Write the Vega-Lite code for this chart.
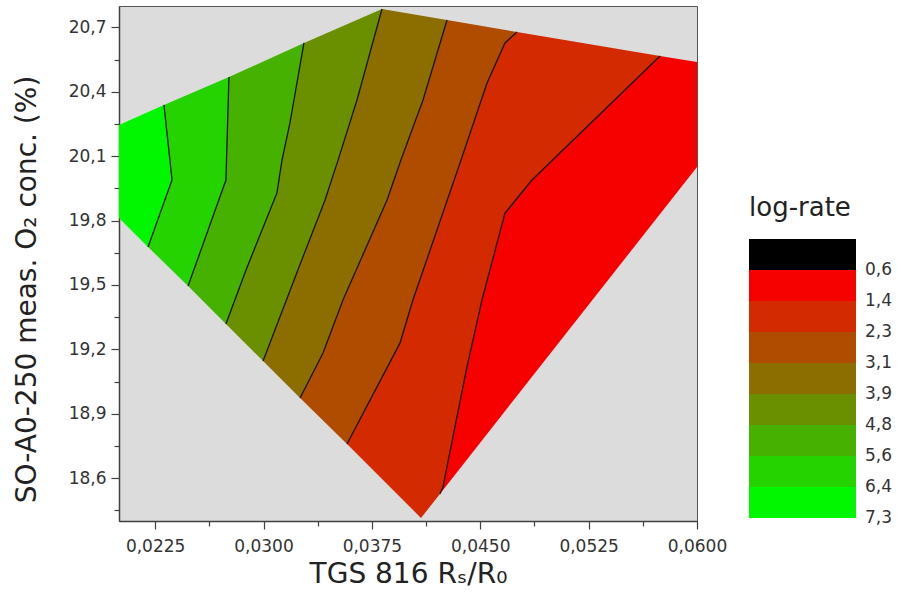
{
 "$schema": "https://vega.github.io/schema/vega-lite/v6.json",
 "width": 578, "height": 515,
 "autosize": {"type": "none"},
 "padding": {"left": 119, "top": 6, "right": 200, "bottom": 84},
 "background": "white",
 "config": {
  "font": "DejaVu Sans",
  "view": {"fill": "#dcdcdc", "stroke": "#555555", "strokeWidth": 1},
  "axis": {"grid": false, "domainColor": "#404040", "domainWidth": 1.5, "tickColor": "#404040", "tickWidth": 1.2,
   "labelFont": "DejaVu Sans", "labelFontSize": 17, "labelColor": "#333333",
   "titleFont": "DejaVu Sans", "titleFontSize": 28, "titleFontWeight": "normal", "titleColor": "#222222",
   "labelFlush": false, "labelOverlap": false, "tickCount": 100}
 },
 "datasets": {
  "bands": [
   {"band":1,"i":0,"x":0.02,"y":20.245,"v":6.86},{"band":1,"i":1,"x":0.02311,"y":20.339,"v":6.86},{"band":1,"i":2,"x":0.02367,"y":19.989,"v":6.86},{"band":1,"i":3,"x":0.02201,"y":19.677,"v":6.86},{"band":1,"i":4,"x":0.02,"y":19.812,"v":6.86},
   {"band":2,"i":0,"x":0.02311,"y":20.339,"v":6.03},{"band":2,"i":1,"x":0.02367,"y":19.989,"v":6.03},{"band":2,"i":2,"x":0.02201,"y":19.677,"v":6.03},{"band":2,"i":3,"x":0.02478,"y":19.495,"v":6.03},{"band":2,"i":4,"x":0.0274,"y":19.989,"v":6.03},{"band":2,"i":5,"x":0.02761,"y":20.469,"v":6.03},
   {"band":3,"i":0,"x":0.02761,"y":20.469,"v":5.19},{"band":3,"i":1,"x":0.0274,"y":19.989,"v":5.19},{"band":3,"i":2,"x":0.02478,"y":19.495,"v":5.19},{"band":3,"i":3,"x":0.0274,"y":19.318,"v":5.19},{"band":3,"i":4,"x":0.02879,"y":19.57,"v":5.19},{"band":3,"i":5,"x":0.03093,"y":19.929,"v":5.19},{"band":3,"i":6,"x":0.03128,"y":20.082,"v":5.19},{"band":3,"i":7,"x":0.03183,"y":20.255,"v":5.19},{"band":3,"i":8,"x":0.0328,"y":20.628,"v":5.19},
   {"band":4,"i":0,"x":0.0328,"y":20.628,"v":4.36},{"band":4,"i":1,"x":0.03183,"y":20.255,"v":4.36},{"band":4,"i":2,"x":0.03128,"y":20.082,"v":4.36},{"band":4,"i":3,"x":0.03093,"y":19.929,"v":4.36},{"band":4,"i":4,"x":0.02879,"y":19.57,"v":4.36},{"band":4,"i":5,"x":0.0274,"y":19.318,"v":4.36},{"band":4,"i":6,"x":0.02997,"y":19.146,"v":4.36},{"band":4,"i":7,"x":0.03246,"y":19.584,"v":4.36},{"band":4,"i":8,"x":0.03426,"y":19.896,"v":4.36},{"band":4,"i":9,"x":0.03516,"y":20.082,"v":4.36},{"band":4,"i":10,"x":0.03647,"y":20.362,"v":4.36},{"band":4,"i":11,"x":0.0382,"y":20.786,"v":4.36},
   {"band":5,"i":0,"x":0.0382,"y":20.786,"v":3.52},{"band":5,"i":1,"x":0.03647,"y":20.362,"v":3.52},{"band":5,"i":2,"x":0.03516,"y":20.082,"v":3.52},{"band":5,"i":3,"x":0.03426,"y":19.896,"v":3.52},{"band":5,"i":4,"x":0.03246,"y":19.584,"v":3.52},{"band":5,"i":5,"x":0.02997,"y":19.146,"v":3.52},{"band":5,"i":6,"x":0.03253,"y":18.973,"v":3.52},{"band":5,"i":7,"x":0.03412,"y":19.183,"v":3.52},{"band":5,"i":8,"x":0.0355,"y":19.43,"v":3.52},{"band":5,"i":9,"x":0.03855,"y":19.896,"v":3.52},{"band":5,"i":10,"x":0.03951,"y":20.082,"v":3.52},{"band":5,"i":11,"x":0.04104,"y":20.362,"v":3.52},{"band":5,"i":12,"x":0.0427,"y":20.735,"v":3.52},
   {"band":6,"i":0,"x":0.0427,"y":20.735,"v":2.69},{"band":6,"i":1,"x":0.04104,"y":20.362,"v":2.69},{"band":6,"i":2,"x":0.03951,"y":20.082,"v":2.69},{"band":6,"i":3,"x":0.03855,"y":19.896,"v":2.69},{"band":6,"i":4,"x":0.0355,"y":19.43,"v":2.69},{"band":6,"i":5,"x":0.03412,"y":19.183,"v":2.69},{"band":6,"i":6,"x":0.03253,"y":18.973,"v":2.69},{"band":6,"i":7,"x":0.03578,"y":18.759,"v":2.69},{"band":6,"i":8,"x":0.03945,"y":19.23,"v":2.69},{"band":6,"i":9,"x":0.04034,"y":19.43,"v":2.69},{"band":6,"i":10,"x":0.0436,"y":20.068,"v":2.69},{"band":6,"i":11,"x":0.04547,"y":20.441,"v":2.69},{"band":6,"i":12,"x":0.04671,"y":20.628,"v":2.69},{"band":6,"i":13,"x":0.04754,"y":20.679,"v":2.69},
   {"band":7,"i":0,"x":0.04754,"y":20.679,"v":1.85},{"band":7,"i":1,"x":0.04671,"y":20.628,"v":1.85},{"band":7,"i":2,"x":0.04547,"y":20.441,"v":1.85},{"band":7,"i":3,"x":0.0436,"y":20.068,"v":1.85},{"band":7,"i":4,"x":0.04034,"y":19.43,"v":1.85},{"band":7,"i":5,"x":0.03945,"y":19.23,"v":1.85},{"band":7,"i":6,"x":0.03578,"y":18.759,"v":1.85},{"band":7,"i":7,"x":0.0409,"y":18.414,"v":1.85},{"band":7,"i":8,"x":0.04221,"y":18.526,"v":1.85},{"band":7,"i":9,"x":0.04242,"y":18.559,"v":1.85},{"band":7,"i":10,"x":0.04408,"y":19.118,"v":1.85},{"band":7,"i":11,"x":0.04512,"y":19.43,"v":1.85},{"band":7,"i":12,"x":0.04671,"y":19.835,"v":1.85},{"band":7,"i":13,"x":0.04858,"y":19.989,"v":1.85},{"band":7,"i":14,"x":0.05744,"y":20.567,"v":1.85},
   {"band":8,"i":0,"x":0.05744,"y":20.567,"v":1.02},{"band":8,"i":1,"x":0.04858,"y":19.989,"v":1.02},{"band":8,"i":2,"x":0.04671,"y":19.835,"v":1.02},{"band":8,"i":3,"x":0.04512,"y":19.43,"v":1.02},{"band":8,"i":4,"x":0.04408,"y":19.118,"v":1.02},{"band":8,"i":5,"x":0.04242,"y":18.559,"v":1.02},{"band":8,"i":6,"x":0.04221,"y":18.526,"v":1.02},{"band":8,"i":7,"x":0.06,"y":20.05,"v":1.02},{"band":8,"i":8,"x":0.06,"y":20.539,"v":1.02}
  ],
  "contours": [
   {"c":1,"i":0,"x":0.02311,"y":20.339},{"c":1,"i":1,"x":0.02367,"y":19.989},{"c":1,"i":2,"x":0.02201,"y":19.677},
   {"c":2,"i":0,"x":0.02761,"y":20.469},{"c":2,"i":1,"x":0.0274,"y":19.989},{"c":2,"i":2,"x":0.02478,"y":19.495},
   {"c":3,"i":0,"x":0.0328,"y":20.628},{"c":3,"i":1,"x":0.03183,"y":20.255},{"c":3,"i":2,"x":0.03128,"y":20.082},{"c":3,"i":3,"x":0.03093,"y":19.929},{"c":3,"i":4,"x":0.02879,"y":19.57},{"c":3,"i":5,"x":0.0274,"y":19.318},
   {"c":4,"i":0,"x":0.0382,"y":20.786},{"c":4,"i":1,"x":0.03647,"y":20.362},{"c":4,"i":2,"x":0.03516,"y":20.082},{"c":4,"i":3,"x":0.03426,"y":19.896},{"c":4,"i":4,"x":0.03246,"y":19.584},{"c":4,"i":5,"x":0.02997,"y":19.146},
   {"c":5,"i":0,"x":0.0427,"y":20.735},{"c":5,"i":1,"x":0.04104,"y":20.362},{"c":5,"i":2,"x":0.03951,"y":20.082},{"c":5,"i":3,"x":0.03855,"y":19.896},{"c":5,"i":4,"x":0.0355,"y":19.43},{"c":5,"i":5,"x":0.03412,"y":19.183},{"c":5,"i":6,"x":0.03253,"y":18.973},
   {"c":6,"i":0,"x":0.04754,"y":20.679},{"c":6,"i":1,"x":0.04671,"y":20.628},{"c":6,"i":2,"x":0.04547,"y":20.441},{"c":6,"i":3,"x":0.0436,"y":20.068},{"c":6,"i":4,"x":0.04034,"y":19.43},{"c":6,"i":5,"x":0.03945,"y":19.23},{"c":6,"i":6,"x":0.03578,"y":18.759},
   {"c":7,"i":0,"x":0.05744,"y":20.567},{"c":7,"i":1,"x":0.04858,"y":19.989},{"c":7,"i":2,"x":0.04671,"y":19.835},{"c":7,"i":3,"x":0.04512,"y":19.43},{"c":7,"i":4,"x":0.04408,"y":19.118},{"c":7,"i":5,"x":0.04242,"y":18.559},{"c":7,"i":6,"x":0.04221,"y":18.526}
  ],
  "legend": [
   {"lo":-0.235,"hi":0.6,"v":0.18,"lab":"0,6"},
   {"lo":0.6,"hi":1.435,"v":1.02,"lab":"1,4"},
   {"lo":1.435,"hi":2.27,"v":1.85,"lab":"2,3"},
   {"lo":2.27,"hi":3.105,"v":2.69,"lab":"3,1"},
   {"lo":3.105,"hi":3.94,"v":3.52,"lab":"3,9"},
   {"lo":3.94,"hi":4.775,"v":4.36,"lab":"4,8"},
   {"lo":4.775,"hi":5.61,"v":5.19,"lab":"5,6"},
   {"lo":5.61,"hi":6.445,"v":6.03,"lab":"6,4"},
   {"lo":6.445,"hi":7.28,"v":6.86,"lab":"7,3"}
  ]
 },
 "layer": [
  {"layer": [
   {"data": {"name": "bands"},
    "mark": {"type": "line", "filled": true, "interpolate": "linear-closed", "strokeWidth": 0},
    "encoding": {
     "x": {"field": "x", "type": "quantitative", "scale": {"domain": [0.02, 0.06], "nice": false, "zero": false},
      "axis": {"title": "TGS 816 Rₛ/R₀",
       "values": [0.0225, 0.02625, 0.03, 0.03375, 0.0375, 0.04125, 0.045, 0.04875, 0.0525, 0.05625, 0.06],
       "labelExpr": "abs(datum.value/0.0075 - round(datum.value/0.0075)) > 0.25 ? '' : replace(format(datum.value, '.4f'), '.', ',')",
       "tickSize": {"condition": {"test": "abs(datum.value/0.0075 - round(datum.value/0.0075)) > 0.25", "value": 5}, "value": 8},
       "labelPadding": 9, "titlePadding": 6}},
     "y": {"field": "y", "type": "quantitative", "scale": {"domain": [18.4, 20.8], "nice": false, "zero": false},
      "axis": {"title": "SO-A0-250 meas. O₂ conc. (%)",
       "values": [18.45, 18.6, 18.75, 18.9, 19.05, 19.2, 19.35, 19.5, 19.65, 19.8, 19.95, 20.1, 20.25, 20.4, 20.55, 20.7],
       "labelExpr": "abs(datum.value/0.3 - round(datum.value/0.3)) > 0.25 ? '' : replace(format(datum.value, '.1f'), '.', ',')",
       "tickSize": {"condition": {"test": "abs(datum.value/0.3 - round(datum.value/0.3)) > 0.25", "value": 5}, "value": 8},
       "labelPadding": 5, "titlePadding": 27, "titleY": 283}},
     "order": {"field": "i", "type": "quantitative"},
     "detail": {"field": "band", "type": "nominal"},
     "color": {"field": "v", "type": "quantitative",
      "scale": {"type": "quantize", "domain": [-0.235, 7.28],
       "range": ["#000000", "#f70000", "#d42a00", "#b04c00", "#8c6e00", "#6a9000", "#47b100", "#25d300", "#00f700"]},
      "legend": null}
    }},
   {"data": {"name": "contours"},
    "mark": {"type": "line", "color": "#141414", "strokeWidth": 1.3},
    "encoding": {
     "x": {"field": "x", "type": "quantitative", "scale": {"domain": [0.02, 0.06], "nice": false, "zero": false}},
     "y": {"field": "y", "type": "quantitative", "scale": {"domain": [18.4, 20.8], "nice": false, "zero": false}},
     "order": {"field": "i", "type": "quantitative"},
     "detail": {"field": "c", "type": "nominal"}
    }}
  ]},
  {"layer": [
   {"data": {"name": "legend"},
    "mark": {"type": "rect"},
    "encoding": {
     "x": {"datum": 0, "type": "quantitative", "scale": {"domain": [0, 1], "range": [630, 737], "nice": false, "zero": false}, "axis": null},
     "x2": {"datum": 1},
     "y": {"field": "lo", "type": "quantitative", "scale": {"domain": [-0.235, 7.28], "range": [233, 512], "nice": false, "zero": false}, "axis": null},
     "y2": {"field": "hi"},
     "color": {"field": "v", "type": "quantitative",
      "scale": {"type": "quantize", "domain": [-0.235, 7.28],
       "range": ["#000000", "#f70000", "#d42a00", "#b04c00", "#8c6e00", "#6a9000", "#47b100", "#25d300", "#00f700"]},
      "legend": null}
    }},
   {"data": {"name": "legend"},
    "mark": {"type": "text", "align": "left", "baseline": "middle", "dx": 9, "fontSize": 17, "color": "#333333"},
    "encoding": {
     "x": {"datum": 1, "type": "quantitative"},
     "y": {"field": "hi", "type": "quantitative"},
     "text": {"field": "lab"}
    }},
   {"data": {"values": [{"t": "log-rate"}]},
    "mark": {"type": "text", "align": "left", "baseline": "alphabetic", "fontSize": 26, "color": "#222222"},
    "encoding": {
     "x": {"datum": 0, "type": "quantitative"},
     "y": {"datum": -0.855, "type": "quantitative"},
     "text": {"field": "t"}
    }}
  ]}
 ],
 "resolve": {"scale": {"x": "independent", "y": "independent"}}
}
